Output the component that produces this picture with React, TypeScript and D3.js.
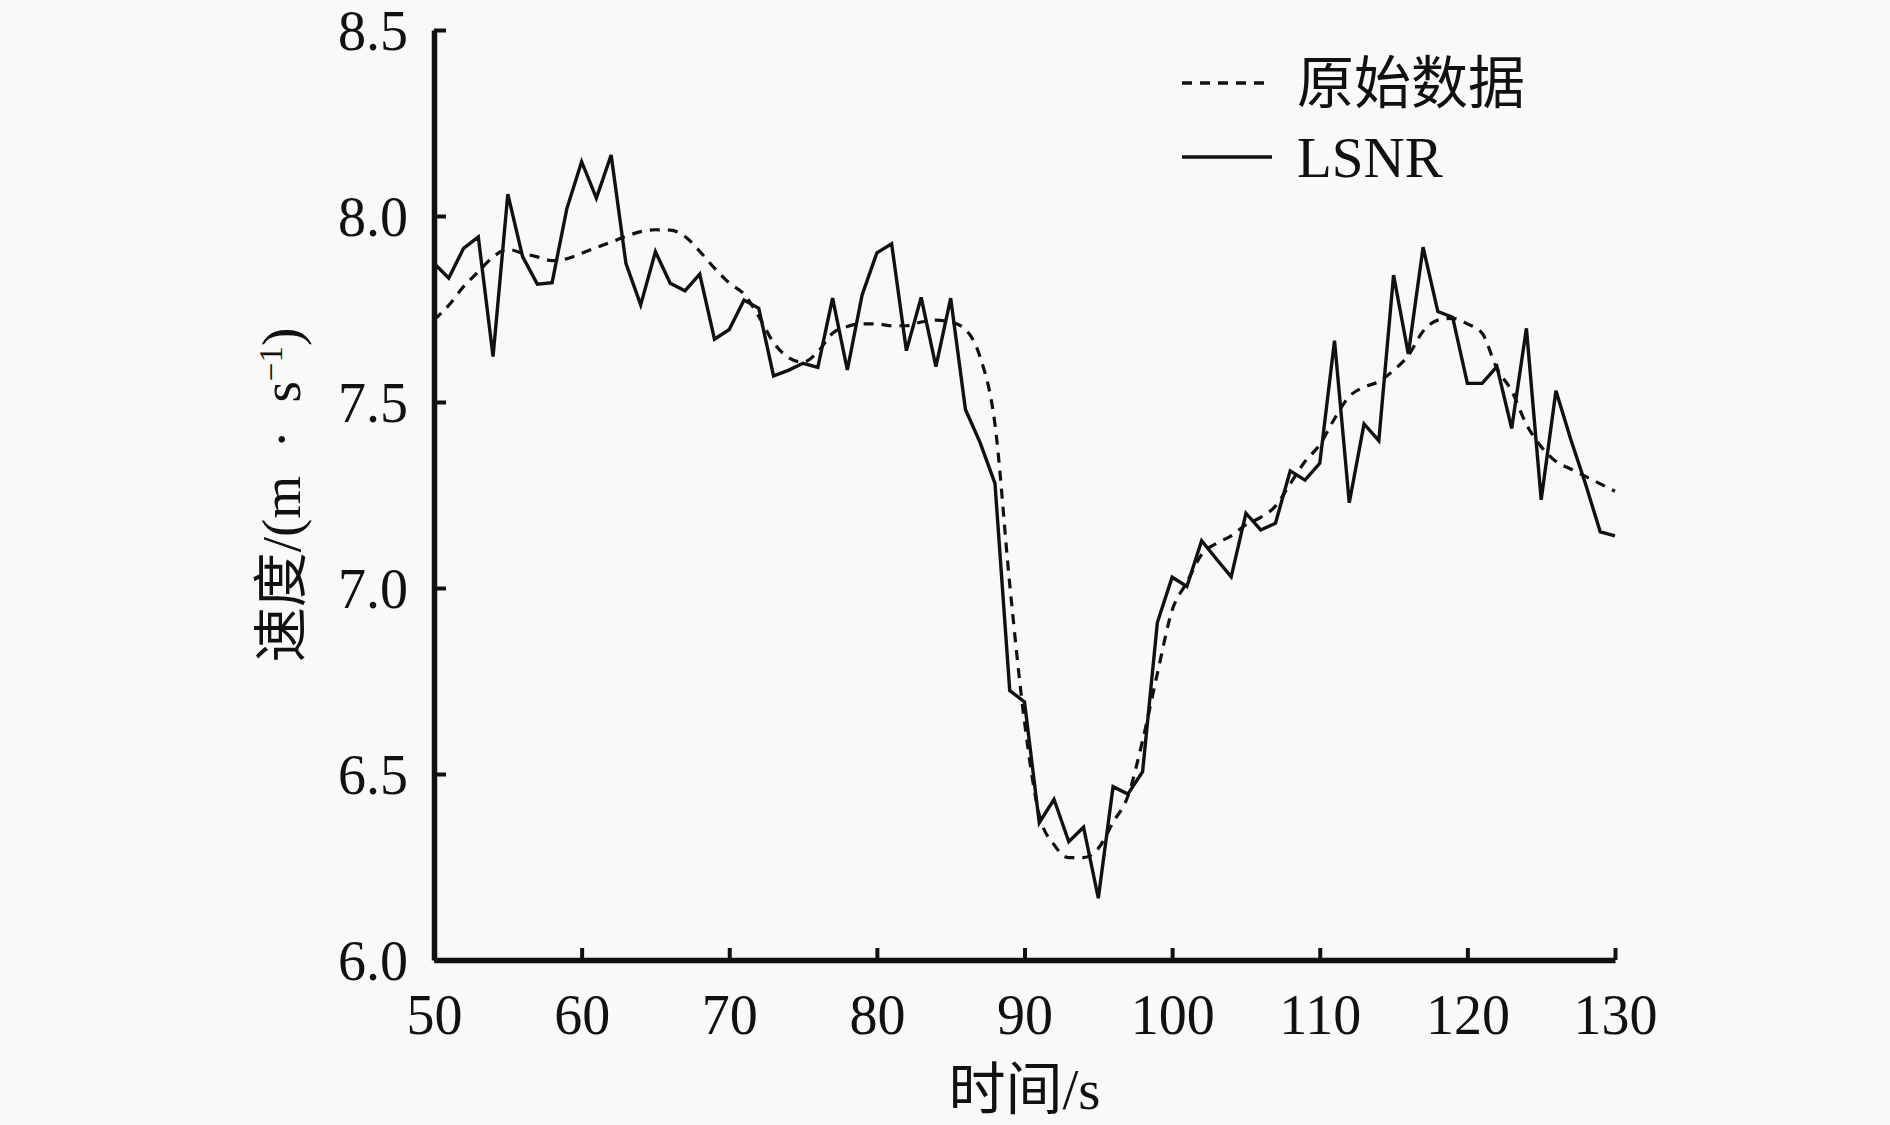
import { useRef, useEffect } from 'react';
import * as d3 from 'd3';

const WIDTH = 1890;
const HEIGHT = 1125;
const MARGIN = { top: 30, right: 275, bottom: 165, left: 434 };

const TIMES = d3.range(50, 131);

// 原始数据 (dashed)
const RAW = [
  7.72, 7.76, 7.81, 7.85, 7.89, 7.91, 7.90, 7.89, 7.88, 7.885,
  7.90, 7.915, 7.93, 7.945, 7.958, 7.963, 7.962, 7.945, 7.905, 7.86,
  7.82, 7.79, 7.73, 7.66, 7.62, 7.607, 7.635, 7.685, 7.703, 7.71,
  7.71, 7.705, 7.705, 7.715, 7.72, 7.715, 7.695, 7.62, 7.44, 7.01,
  6.64, 6.39, 6.31, 6.275, 6.275, 6.30, 6.37, 6.44, 6.59, 6.77,
  6.94, 7.015, 7.09, 7.12, 7.14, 7.17, 7.19, 7.22, 7.28, 7.34,
  7.385, 7.455, 7.515, 7.54, 7.555, 7.585, 7.625, 7.69, 7.72, 7.725,
  7.71, 7.685, 7.59, 7.53, 7.44, 7.38, 7.34, 7.32, 7.30, 7.28,
  7.26,
];

// LSNR (solid)
const LSNR = [
  7.873, 7.833, 7.913, 7.944, 7.622, 8.059, 7.891, 7.817, 7.821, 8.02,
  8.146, 8.048, 8.164, 7.873, 7.761, 7.904, 7.819, 7.799, 7.844, 7.669,
  7.695, 7.774, 7.752, 7.570, 7.585, 7.604, 7.593, 7.779, 7.586, 7.788,
  7.901, 7.925, 7.638, 7.781, 7.595, 7.779, 7.480, 7.39, 7.281, 6.724,
  6.694, 6.369, 6.432, 6.318, 6.357, 6.166, 6.466, 6.446, 6.506, 6.907,
  7.029, 7.004, 7.127, 7.078, 7.030, 7.201, 7.156, 7.174, 7.315, 7.290,
  7.335, 7.665, 7.229, 7.441, 7.396, 7.841, 7.629, 7.916, 7.743, 7.728,
  7.550, 7.550, 7.595, 7.429, 7.698, 7.237, 7.530, 7.40, 7.28, 7.151,
  7.140,
];

const X_TICKS = [50, 60, 70, 80, 90, 100, 110, 120, 130];
const Y_TICKS = [6.0, 6.5, 7.0, 7.5, 8.0, 8.5];
const SERIES_NAMES = ['原始数据', 'LSNR'];

const FONT = '"Liberation Serif", "Noto Sans CJK SC", serif';

export default function App() {
  const svgRef = useRef<SVGSVGElement>(null);

  useEffect(() => {
    if (!svgRef.current) return;
    const svg = d3.select(svgRef.current);
    svg.selectAll('*').remove();

    const innerWidth = WIDTH - MARGIN.left - MARGIN.right;
    const innerHeight = HEIGHT - MARGIN.top - MARGIN.bottom;

    const x = d3.scaleLinear().domain([50, 130]).range([0, innerWidth]);
    const y = d3.scaleLinear().domain([6, 8.5]).range([innerHeight, 0]);

    svg.append('rect').attr('width', WIDTH).attr('height', HEIGHT).attr('fill', '#f9f9f9');

    const g = svg.append('g').attr('transform', `translate(${MARGIN.left},${MARGIN.top})`);

    // lines
    const rawLine = d3.line<number>()
      .x((_, i) => x(TIMES[i]))
      .y(d => y(d))
      .curve(d3.curveMonotoneX);
    g.append('path')
      .datum(RAW)
      .attr('d', rawLine)
      .attr('fill', 'none')
      .attr('stroke', '#111')
      .attr('stroke-width', 3.2)
      .attr('stroke-dasharray', '10,8');

    const lsnrLine = d3.line<number>()
      .x((_, i) => x(TIMES[i]))
      .y(d => y(d));
    g.append('path')
      .datum(LSNR)
      .attr('d', lsnrLine)
      .attr('fill', 'none')
      .attr('stroke', '#111')
      .attr('stroke-width', 3.4)
      .attr('stroke-linejoin', 'miter');

    // axes, ticks pointing inward
    const xAxis = d3.axisBottom(x).tickValues(X_TICKS).tickSizeInner(-12).tickSizeOuter(0).tickPadding(34)
      .tickFormat(d => String(d));
    const xg = g.append('g').attr('transform', `translate(0,${innerHeight})`).call(xAxis);

    const yAxis = d3.axisLeft(y).tickValues(Y_TICKS).tickSizeInner(-12).tickSizeOuter(0).tickPadding(26)
      .tickFormat(d => d3.format('.1f')(d as number));
    const yg = g.append('g').call(yAxis);

    [xg, yg].forEach(ax => {
      ax.select('.domain').attr('stroke', '#111').attr('stroke-width', 5.5);
      ax.selectAll('.tick line').attr('stroke', '#111').attr('stroke-width', 4);
      ax.selectAll('.tick text')
        .attr('fill', '#111')
        .attr('font-family', FONT)
        .attr('font-size', 56);
    });
    yg.selectAll('.tick text').attr('dy', '0.34em');

    // axis titles
    g.append('text')
      .attr('x', innerWidth / 2)
      .attr('y', innerHeight + 149)
      .attr('text-anchor', 'middle')
      .attr('font-family', FONT)
      .attr('font-size', 57)
      .attr('fill', '#111')
      .text('时间/s');

    const yTitle = g.append('text')
      .attr('transform', `translate(${-134},${innerHeight / 2}) rotate(-90)`)
      .attr('text-anchor', 'middle')
      .attr('font-family', FONT)
      .attr('font-size', 55)
      .attr('fill', '#111')
      .attr('xml:space', 'preserve')
      .style('white-space', 'pre');
    yTitle.append('tspan').text('速度/(m  ·  s');
    yTitle.append('tspan').attr('baseline-shift', 'super').attr('font-size', 33).text('−1');
    yTitle.append('tspan').text(')');

    // legend
    const legend = svg.append('g').attr('transform', 'translate(1182,0)');
    const rows = [
      { name: SERIES_NAMES[0], dash: '10,8', y: 83 },
      { name: SERIES_NAMES[1], dash: null, y: 157 },
    ];
    rows.forEach(r => {
      legend.append('line')
        .attr('x1', 0).attr('x2', 90)
        .attr('y1', r.y).attr('y2', r.y)
        .attr('stroke', '#111')
        .attr('stroke-width', 3.4)
        .attr('stroke-dasharray', r.dash);
      legend.append('text')
        .attr('x', 115)
        .attr('y', r.y)
        .attr('dy', '0.35em')
        .attr('font-family', FONT)
        .attr('font-size', 57)
        .attr('fill', '#111')
        .text(r.name);
    });
  }, []);

  return (
    <div style={{ width: WIDTH, height: HEIGHT }}>
      <style>{'body{margin:0}'}</style>
      <svg ref={svgRef} width={WIDTH} height={HEIGHT} style={{ display: 'block' }} />
    </div>
  );
}
